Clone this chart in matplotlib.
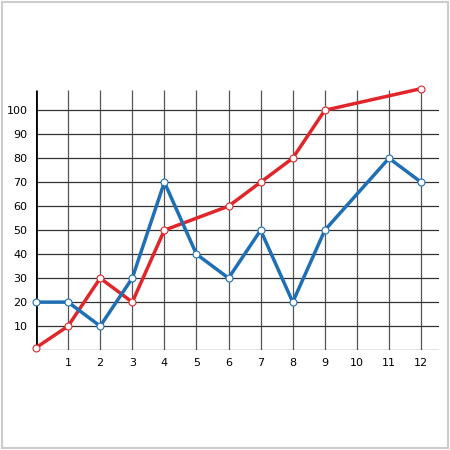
import matplotlib.pyplot as plt

# data
red_x = [0, 1, 2, 3, 4, 6, 7, 8, 9, 12]
red_y = [1, 10, 30, 20, 50, 60, 70, 80, 100, 109]
blue_x = [0, 1, 2, 3, 4, 5, 6, 7, 8, 9, 11, 12]
blue_y = [20, 20, 10, 30, 70, 40, 30, 50, 20, 50, 80, 70]
x_ticks = list(range(1, 13))
y_ticks = list(range(10, 101, 10))

fig = plt.figure(figsize=(4.5, 4.5), dpi=100)
# light frame around the picture
fig.patches.append(plt.Rectangle((0.005, 0.005), 0.99, 0.99, transform=fig.transFigure,
                                 fill=False, edgecolor="#cccccc", lw=1.5))
ax = fig.add_axes([0.08, 0.222, 0.895, 0.589])
ax.set_xlim(0, 12.55)
ax.set_ylim(0, 110.5)

# grid
ax.vlines(x_ticks, 0, 108.5, color="#555555", lw=0.9, zorder=1)
ax.hlines([0] + y_ticks, 0, 12.55, color="#333333", lw=0.9, zorder=1)
ax.vlines([0], 0, 108.5, color="black", lw=2, zorder=2)

ax.plot(red_x, red_y, color="#e0262b", lw=2.5, marker="o", ms=5,
        mfc="white", mec="#e0262b", mew=0.8, zorder=3, clip_on=False)
ax.plot(blue_x, blue_y, color="#1f6fb4", lw=2.5, marker="o", ms=5,
        mfc="white", mec="#1f6fb4", mew=0.8, zorder=3, clip_on=False)

for s in ax.spines.values():
    s.set_visible(False)
ax.set_xticks(x_ticks)
ax.set_yticks(y_ticks)
ax.tick_params(length=0, labelsize=8, pad=6)

fig.savefig("out.png")
